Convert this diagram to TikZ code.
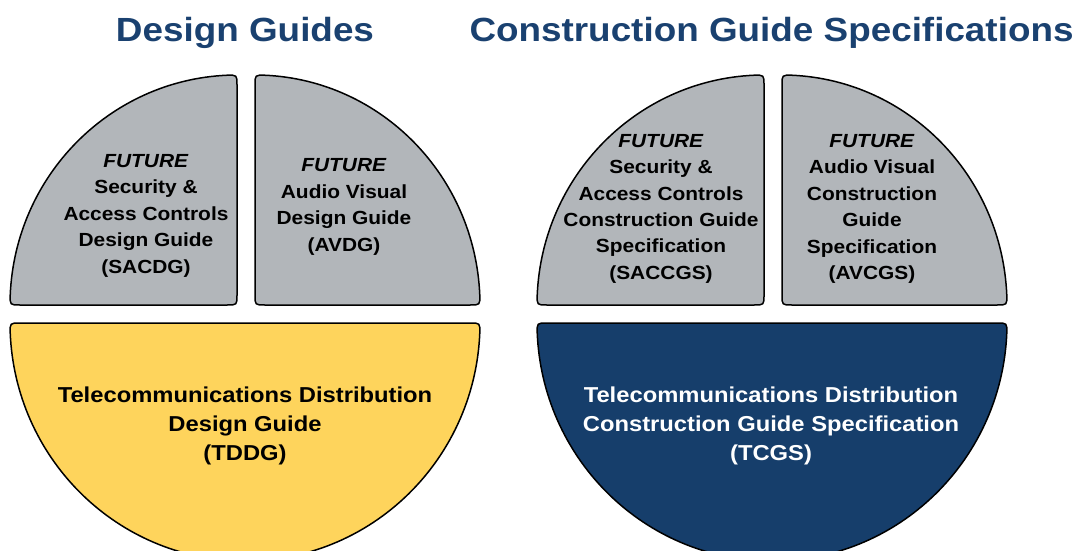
\documentclass[tikz,border=0pt]{standalone}
\usepackage{fontspec}
\setmainfont[FakeStretch=1.1]{Liberation Sans}
\definecolor{guidegray}{RGB}{178,182,186}
\definecolor{guideyellow}{RGB}{254,212,92}
\definecolor{guidenavy}{RGB}{22,62,107}
\definecolor{titleblue}{RGB}{26,65,112}

\begin{document}
\begin{tikzpicture}[x=1pt,y=1pt,
	quad/.style={draw=black,line width=1.5pt,fill=guidegray},
	half/.style={draw=black,line width=1.5pt},
	lbl/.style={align=center,inner sep=0pt,font=\fontsize{19}{26.4}\selectfont\bfseries},
	big/.style={align=center,inner sep=0pt,font=\fontsize{21.6}{29}\selectfont\bfseries},
	hdr/.style={anchor=base,inner sep=0pt,text=titleblue,font=\fontsize{33.5}{40}\selectfont\bfseries}]
			\useasboundingbox (0,0) rectangle (1081,550);
			
			% design guides
			\node[hdr] (dgtitle) at (245,508) {Design Guides};
			\draw[quad] (20,245) -- (227,245) .. controls (237,245) .. (237,255) -- (237,465)
				.. controls (237,475) .. ([shift={(92.5:227pt and 230pt)}]237,245)
				arc (92.5:177.5:227pt and 230pt) .. controls (10,245) .. (20,245) -- cycle;
			\draw[quad] (465,245) -- (265,245) .. controls (255,245) .. (255,255) -- (255,465)
				.. controls (255,475) .. ([shift={(87.5:225pt and 230pt)}]255,245)
				arc (87.5:2.5:225pt and 230pt) .. controls (480,245) .. (470,245) -- cycle;
			\draw[half,fill=guideyellow] (20,227) -- (470,227)
				.. controls (480,227) .. ([shift={(-2.4:235pt and 238pt)}]245,227)
				arc (-2.4:-177.6:235pt and 238pt) .. controls (10,227) .. (20,227) -- cycle;
			\node[lbl] (sacdg) at (146,334.3) {\textit{FUTURE}\\Security \&\\Access Controls\\Design Guide\\(SACDG)};
			\node[lbl] (avdg) at (344,343) {\textit{FUTURE}\\Audio Visual\\Design Guide\\(AVDG)};
			\node[big] (tddg) at (245,124.5) {Telecommunications Distribution\\Design Guide\\(TDDG)};
			
			% construction guide specifications
			\node[hdr] (cgstitle) at (771.5,508) {Construction Guide Specifications};
			\draw[quad] (547,245) -- (754,245) .. controls (764,245) .. (764,255) -- (764,465)
				.. controls (764,475) .. ([shift={(92.5:227pt and 230pt)}]764,245)
				arc (92.5:177.5:227pt and 230pt) .. controls (537,245) .. (547,245) -- cycle;
			\draw[quad] (992,245) -- (792,245) .. controls (782,245) .. (782,255) -- (782,465)
				.. controls (782,475) .. ([shift={(87.5:225pt and 230pt)}]782,245)
				arc (87.5:2.5:225pt and 230pt) .. controls (1007,245) .. (997,245) -- cycle;
			\draw[half,fill=guidenavy] (547,227) -- (997,227)
				.. controls (1007,227) .. ([shift={(-2.4:235pt and 238pt)}]772,227)
				arc (-2.4:-177.6:235pt and 238pt) .. controls (537,227) .. (547,227) -- cycle;
			\node[lbl] (saccgs) at (661,341.3) {\textit{FUTURE}\\Security \&\\Access Controls\\Construction Guide\\Specification\\(SACCGS)};
			\node[lbl] (avcgs) at (872,341) {\textit{FUTURE}\\Audio Visual\\Construction\\Guide\\Specification\\(AVCGS)};
			\node[big,text=white] (tcgs) at (771,124.5) {Telecommunications Distribution\\Construction Guide Specification\\(TCGS)};
\end{tikzpicture}
\end{document}
